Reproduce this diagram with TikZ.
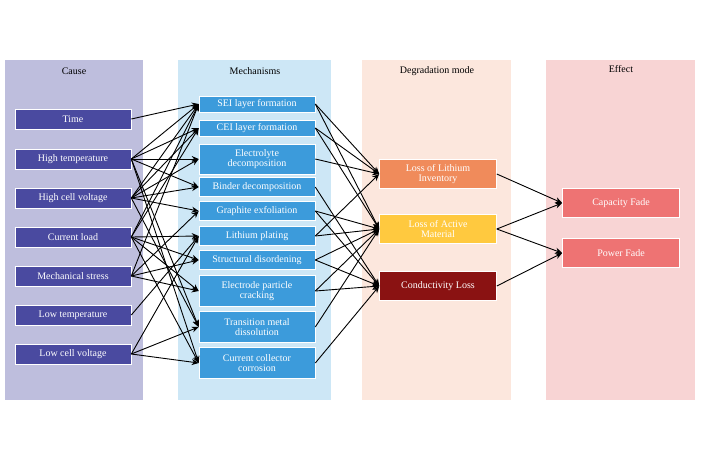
\documentclass[tikz,border=0pt]{standalone}
\usepackage{fontspec}
\setmainfont{Liberation Serif}
\usetikzlibrary{arrows.meta}
\definecolor{cbg}{HTML}{BEBEDD}
\definecolor{mbg}{HTML}{CDE7F6}
\definecolor{dbg}{HTML}{FCE7DD}
\definecolor{ebg}{HTML}{F8D4D4}
\definecolor{cbox}{HTML}{4A4AA0}
\definecolor{mbox}{HTML}{3C9BDB}
\definecolor{lli}{HTML}{F08B5B}
\definecolor{lam}{HTML}{FFC93F}
\definecolor{cond}{HTML}{8A1212}
\definecolor{eff}{HTML}{EE7373}
\begin{document}
\begin{tikzpicture}[x=1pt,y=-1pt,
  every node/.style={font=\fontsize{10}{10.5}\selectfont},
  bx/.style={draw=white,line width=0.6pt,text=white,align=center,minimum width=116pt,inner sep=1pt},
  cb/.style={bx,fill=cbox,minimum height=20pt},
  mb/.style={bx,fill=mbox,minimum width=116pt},
  hd/.style={font=\fontsize{10}{11}\selectfont},
  ar/.style={-{Stealth[length=7pt,width=6pt]},line width=0.9pt}]
\useasboundingbox (0,0) rectangle (702,459);
\fill[white] (0,0) rectangle (702,459);
\fill[cbg] (5,60) rectangle (143,400);
\fill[mbg] (178,60) rectangle (331,400);
\fill[dbg] (362,60) rectangle (511,400);
\fill[ebg] (546,60) rectangle (695,400);
\node[hd] (h1) at (74,71) {Cause};
\node[hd] (h2) at (255,71) {Mechanisms};
\node[hd] (h3) at (437,71) {Degradation mode};
\node[hd] (h4) at (621,69) {Effect};
% causes
\node[cb] (c1) at (73,119) {Time};
\node[cb] (c2) at (73,159) {High temperature};
\node[cb] (c3) at (73,198) {High cell voltage};
\node[cb] (c4) at (73,237) {Current load};
\node[cb] (c5) at (73,276) {Mechanical stress};
\node[cb] (c6) at (73,315) {Low temperature};
\node[cb] (c7) at (73,354) {Low cell voltage};
% mechanisms
\node[mb,minimum height=16pt] (m1) at (257,104) {SEI layer formation};
\node[mb,minimum height=16pt] (m2) at (257,128) {CEI layer formation};
\node[mb,minimum height=30pt] (m3) at (257,159) {Electrolyte\\decomposition};
\node[mb,minimum height=19pt] (m4) at (257,187) {Binder decomposition};
\node[mb,minimum height=19pt] (m5) at (257,211) {Graphite exfoliation};
\node[mb,minimum height=19pt] (m6) at (257,236) {Lithium plating};
\node[mb,minimum height=19pt] (m7) at (257,260) {Structural disordening};
\node[mb,minimum height=31pt] (m8) at (257,291) {Electrode particle\\cracking};
\node[mb,minimum height=31pt] (m9) at (257,327) {Transition metal\\dissolution};
\node[mb,minimum height=31pt] (m10) at (257,363) {Current collector\\corrosion};
% degradation
\node[bx,fill=lli,minimum width=117pt,minimum height=29pt] (d1) at (438,174) {Loss of Lithium\\Inventory};
\node[bx,fill=lam,minimum width=117pt,minimum height=29pt] (d2) at (438,229) {Loss of Active\\Material};
\node[bx,fill=cond,minimum width=117pt,minimum height=29pt] (d3) at (438,286) {Conductivity Loss};
% effects
\node[bx,fill=eff,minimum width=117pt,minimum height=29pt] (e1) at (621,203) {Capacity Fade};
\node[bx,fill=eff,minimum width=117pt,minimum height=29pt] (e2) at (621,253) {Power Fade};
% cause -> mechanism
\foreach \a/\b in {c1/m1,
  c2/m1,c2/m2,c2/m3,c2/m4,c2/m9,c2/m10,
  c3/m1,c3/m2,c3/m3,c3/m4,c3/m5,c3/m9,
  c4/m1,c4/m2,c4/m6,c4/m7,c4/m8,c4/m10,
  c5/m1,c5/m5,c5/m7,c5/m8,
  c6/m6,
  c7/m6,c7/m9,c7/m10}
  \draw[ar] (\a.east) -- (\b.west);
% mechanism -> degradation
\foreach \a/\b in {m1/d1,m1/d2,m2/d1,m2/d2,m3/d1,m4/d3,m5/d2,m5/d3,
  m6/d1,m6/d2,m7/d2,m7/d3,m8/d2,m8/d3,m9/d2,m10/d3}
  \draw[ar] (\a.east) -- (\b.west);
% degradation -> effect
\foreach \a/\b in {d1/e1,d2/e1,d2/e2,d3/e2}
  \draw[ar] (\a.east) -- (\b.west);
\end{tikzpicture}
\end{document}
